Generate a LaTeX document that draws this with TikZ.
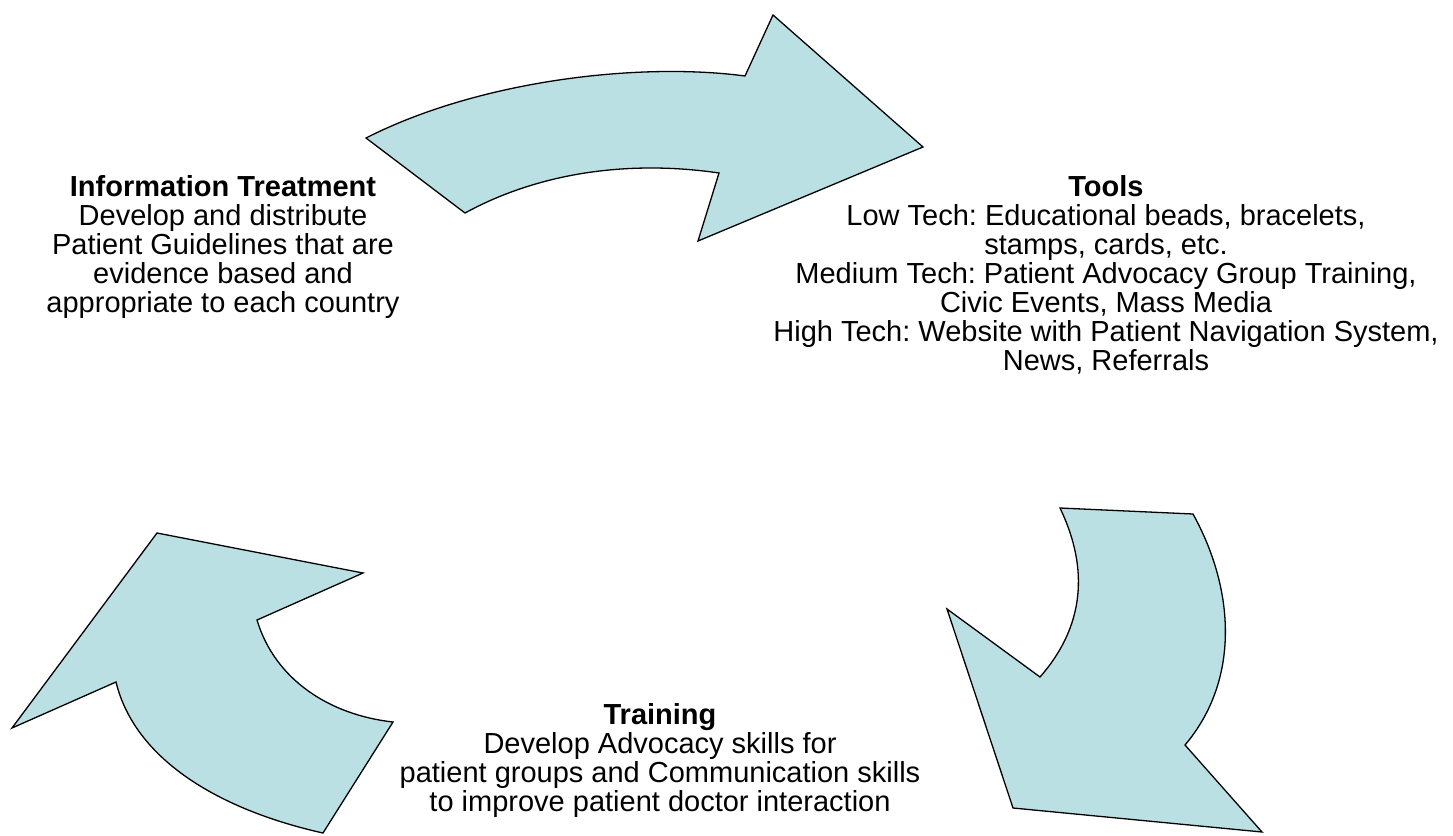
\documentclass[tikz,border=0pt]{standalone}
\usepackage{fontspec}
\setmainfont{Liberation Sans}
\frenchspacing
\definecolor{arrowfill}{HTML}{BBE0E3}
\tikzset{
  blade/.style={draw=black, line width=1.3pt, fill=arrowfill, line join=miter},
  cycletext/.style={align=center, inner sep=0pt, anchor=north, font=\fontsize{29}{29}\selectfont},
}
\begin{document}
\begin{tikzpicture}[x=1pt, y=-1pt]
			%%%%% START %%%%%
			\useasboundingbox (0, 0) rectangle (1453, 835);
			
			% top arrow, pointing right
			\draw[blade] (366, 138) .. controls (480, 80) and (640, 62) .. (745, 76)
			  -- (773, 15) -- (923, 147) -- (698, 241) -- (719, 173)
			  .. controls (630, 160) and (540, 172) .. (465, 213) -- cycle;
			
			% right arrow, pointing down
			\draw[blade] (1060, 508) -- (1193, 514)
			  .. controls (1235, 590) and (1240, 680) .. (1185, 745)
			  -- (1262, 832) -- (1013, 808) -- (947, 609) -- (1040, 677)
			  .. controls (1090, 620) and (1085, 560) .. (1060, 508) -- cycle;
			
			% left arrow, pointing up
			\draw[blade] (323, 833) .. controls (220, 810) and (135, 760) .. (116, 682)
			  -- (12, 728) -- (157, 533) -- (363, 573) -- (257, 620)
			  .. controls (275, 680) and (330, 715) .. (393, 722) -- cycle;
			
			\node[cycletext] (info) at (223, 175) {\textbf{Information Treatment}\\
			  Develop and distribute\\ Patient Guidelines that are\\
			  evidence based and\\ appropriate to each country};
			
			\node[cycletext] (tools) at (1106, 175) {\textbf{Tools}\\
			  Low Tech: Educational beads, bracelets,\\ stamps, cards, etc.\\
			  Medium Tech: Patient Advocacy Group Training,\\ Civic Events, Mass Media\\
			  High Tech: Website with Patient Navigation System,\\ News, Referrals};
			
			\node[cycletext] (training) at (660, 703) {\textbf{Training}\\
			  Develop Advocacy skills for\\ patient groups and Communication skills\\
			  to improve patient doctor interaction};
			%%%%% END %%%%%
\end{tikzpicture}
\end{document}
